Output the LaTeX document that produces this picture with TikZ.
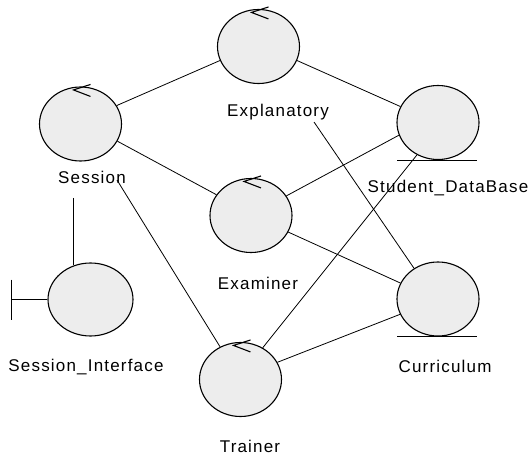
\documentclass[tikz,border=0pt]{standalone}
\usepackage{fontspec}
\setmainfont{Liberation Sans}[LetterSpace=7]
\usetikzlibrary{shapes.geometric}
\begin{document}
\begin{tikzpicture}[x=1pt,y=-1pt,
  obj/.style={shape=ellipse,draw=black,line width=1.1pt,fill=black!7,inner sep=0pt,minimum width=82pt,minimum height=74pt},
  lbl/.style={anchor=base,inner sep=0pt,font=\fontsize{17}{20}\selectfont},
  conn/.style={draw=black,line width=0.8pt},
  ctrl/.style={draw=black,line width=1.1pt}]
\useasboundingbox (0,0) rectangle (530,457);
% objects
\node[obj] (ses) at (80.5,124) {};
\node[obj] (exp) at (258.5,46.5) {};
\node[obj] (exa) at (251,215.5) {};
\node[obj] (tra) at (240.5,379.5) {};
\node[obj] (sdb) at (438,122.5) {};
\node[obj] (cur) at (438,299) {};
\node[obj,minimum width=85pt,minimum height=73pt] (sif) at (90.5,299.5) {};
% labels
\node[lbl] (sesl) at (92,184) {Session};
\node[lbl] (expl) at (278,117) {Explanatory};
\node[lbl] (exal) at (258,289) {Examiner};
\node[lbl] (sdbl) at (448,193) {Student\_DataBase};
\node[lbl] (sifl) at (86,371) {Session\_Interface};
\node[lbl] (curl) at (445,372) {Curriculum};
\node[lbl] (tral) at (250,452) {Trainer};
% connector ends at labels
\coordinate (sesT) at (117,180);
\coordinate (sesS) at (73,198);
\coordinate (expC) at (314,122);
% connectors
\draw[conn] (ses.27) -- (exp.200);
\draw[conn] (ses.-25) -- (exa.149);
\draw[conn] (sesT) -- (tra.122);
\draw[conn] (sesS) -- (sesS |- sif.116);
\draw[conn] (exp.-20) -- (sdb.157);
\draw[conn] (expC) -- (cur.128);
\draw[conn] (exa.29) -- (sdb.198);
\draw[conn] (exa.-24) -- (cur.157);
\draw[conn] (tra.55) -- (sdb.237);
\draw[conn] (tra.25) -- (cur.202);
% boundary mark
\draw[conn] (sif.west) -- ++(-36,0) coordinate (sifb);
\draw[conn] ([yshift=20pt]sifb) -- ([yshift=-20pt]sifb);
% entity underlines
\draw[conn] ([xshift=-41pt]sdb.south) -- ([xshift=39pt]sdb.south);
\draw[conn] ([xshift=-41pt]cur.south) -- ([xshift=39pt]cur.south);
% control marks
\foreach \n in {ses,exp,exa,tra}
  \draw[ctrl] (\n.north) ++(10,-2) -- ++(-17,5.5) -- ++(17,6.5);
\end{tikzpicture}
\end{document}
